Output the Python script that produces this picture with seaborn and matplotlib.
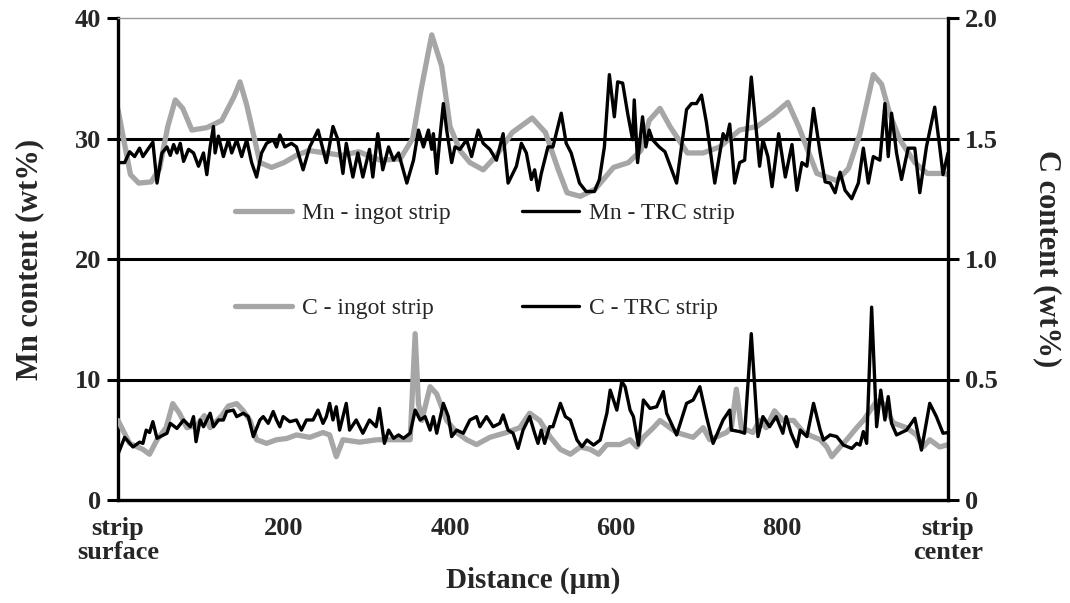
import matplotlib
matplotlib.use("Agg")
import matplotlib.pyplot as plt
import seaborn as sns
import pandas as pd

# ---------------- data (distance in um, content in wt%) ----------------
mn_ingot_pts = [(0, 32.4), (8, 29.5), (15, 27.0), (25, 26.3), (40, 26.4), (50, 27.5), (60, 31.0),
                (69, 33.2), (78, 32.5), (89, 30.7), (107, 30.9), (125, 31.5), (140, 33.5), (147, 34.7),
                (155, 32.8), (171, 28.0), (185, 27.6), (200, 28.0), (215, 28.6), (230, 29.0), (250, 28.8),
                (270, 28.6), (290, 28.9), (316, 28.2), (340, 28.3), (355, 30.0), (365, 34.0), (378, 38.6),
                (390, 36.0), (400, 31.0), (412, 29.0), (424, 28.0), (440, 27.4), (455, 28.5), (475, 30.5),
                (499, 31.7), (515, 30.5), (530, 27.5), (541, 25.5), (557, 25.2), (575, 25.8), (597, 27.6),
                (615, 28.0), (630, 29.0), (640, 31.5), (653, 32.5), (665, 31.0), (686, 28.8), (705, 28.8),
                (725, 29.3), (749, 30.7), (770, 31.0), (790, 32.0), (807, 33.0), (820, 31.0), (842, 27.1),
                (866, 26.5), (880, 27.5), (894, 30.4), (910, 35.3), (920, 34.5), (930, 32.0), (942, 29.9),
                (960, 28.0), (975, 27.1), (994, 27.1), (1000, 27.0)]

mn_trc_pts = [(0, 28.0), (8, 28.0), (14, 28.9), (20, 28.5), (26, 29.2), (30, 28.5), (42, 29.7), (47, 26.3),
              (53, 28.8), (59, 29.3), (63, 28.6), (67, 29.5), (71, 28.8), (75, 29.6), (79, 28.1), (85, 29.1),
              (91, 28.8), (97, 27.7), (103, 28.8), (107, 27.0), (111, 29.3), (115, 31.0), (117, 28.8),
              (121, 30.2), (127, 28.5), (133, 29.9), (137, 28.8), (143, 29.9), (149, 28.5), (155, 29.9),
              (161, 28.0), (167, 26.8), (173, 28.8), (179, 29.6), (187, 29.9), (191, 29.3), (195, 30.3),
              (201, 29.3), (209, 29.6), (215, 29.3), (223, 27.4), (231, 29.3), (241, 30.7), (251, 28.0),
              (259, 31.0), (265, 29.9), (271, 27.1), (275, 29.6), (283, 26.8), (289, 28.8), (295, 26.8),
              (303, 29.1), (307, 26.8), (313, 30.4), (319, 27.4), (326, 29.3), (332, 28.2), (338, 28.8),
              (348, 26.3), (356, 28.2), (362, 30.7), (368, 29.3), (374, 30.7), (378, 29.1), (380, 30.4),
              (384, 27.1), (388, 30.2), (392, 32.9), (396, 30.7), (402, 28.0), (406, 29.3), (412, 29.1),
              (420, 29.9), (426, 28.5), (434, 30.7), (440, 29.6), (448, 29.1), (456, 28.2), (464, 30.4),
              (470, 26.3), (480, 27.7), (486, 29.6), (492, 28.8), (498, 26.6), (502, 27.4), (506, 25.7),
              (510, 27.1), (514, 28.2), (518, 29.3), (524, 29.3), (534, 32.1), (540, 29.6), (546, 28.8),
              (556, 26.3), (564, 25.6), (574, 25.6), (580, 26.6), (586, 29.3), (592, 35.3), (598, 31.8),
              (602, 34.7), (608, 34.6), (614, 32.1), (620, 29.9), (622, 33.2), (626, 28.0), (632, 31.8),
              (636, 29.3), (640, 30.7), (644, 29.9), (652, 29.3), (659, 28.9), (673, 26.3), (685, 32.4),
              (691, 32.9), (697, 32.9), (703, 33.6), (709, 31.3), (719, 26.3), (729, 30.4), (733, 29.9),
              (737, 31.2), (743, 26.3), (749, 28.0), (755, 28.2), (763, 35.1), (773, 27.7), (777, 29.9),
              (783, 28.5), (788, 26.0), (796, 30.4), (804, 26.8), (812, 29.5), (818, 25.7), (824, 28.0),
              (830, 27.7), (838, 32.5), (846, 28.8), (852, 26.4), (858, 26.3), (864, 25.5), (870, 27.2),
              (876, 25.7), (884, 25.0), (892, 26.3), (898, 29.2), (904, 26.3), (910, 28.5), (918, 28.2),
              (924, 32.9), (928, 28.5), (932, 32.1), (938, 28.8), (944, 26.6), (952, 29.2), (960, 29.2),
              (966, 25.5), (974, 29.3), (984, 32.6), (990, 29.3), (994, 27.0), (1000, 28.8)]

c_ingot_pts = [(0, 0.33), (14, 0.235), (30, 0.21), (38, 0.19), (47, 0.25), (58, 0.30), (66, 0.40), (74, 0.36),
               (83, 0.30), (95, 0.31), (104, 0.35), (111, 0.30), (125, 0.35), (133, 0.39), (143, 0.40),
               (151, 0.37), (159, 0.33), (167, 0.25), (179, 0.235), (191, 0.25), (203, 0.255), (215, 0.27),
               (231, 0.26), (247, 0.28), (255, 0.27), (263, 0.18), (271, 0.25), (291, 0.24), (312, 0.25),
               (352, 0.25), (358, 0.69), (362, 0.40), (366, 0.33), (376, 0.47), (384, 0.44), (396, 0.33),
               (408, 0.28), (420, 0.25), (432, 0.23), (448, 0.26), (468, 0.28), (484, 0.30), (496, 0.36),
               (508, 0.33), (521, 0.26), (533, 0.21), (545, 0.19), (557, 0.22), (569, 0.21), (579, 0.19),
               (589, 0.23), (605, 0.23), (617, 0.25), (625, 0.22), (633, 0.26), (645, 0.30), (653, 0.33),
               (673, 0.28), (693, 0.26), (705, 0.30), (713, 0.25), (733, 0.28), (739, 0.30), (745, 0.46),
               (751, 0.30), (765, 0.28), (773, 0.33), (781, 0.30), (791, 0.37), (801, 0.33), (814, 0.33),
               (826, 0.28), (846, 0.25), (854, 0.22), (860, 0.18), (870, 0.22), (878, 0.25), (890, 0.30),
               (898, 0.33), (914, 0.41), (922, 0.40), (934, 0.32), (950, 0.30), (962, 0.27), (970, 0.22),
               (978, 0.25), (990, 0.22), (1000, 0.23)]

c_trc_pts = [(0, 0.19), (8, 0.26), (18, 0.22), (26, 0.24), (30, 0.235), (34, 0.29), (38, 0.28), (42, 0.325),
             (47, 0.256), (59, 0.277), (63, 0.318), (71, 0.297), (79, 0.332), (87, 0.304), (91, 0.346),
             (94, 0.242), (99, 0.332), (103, 0.304), (111, 0.36), (115, 0.304), (121, 0.332), (127, 0.332),
             (131, 0.367), (139, 0.373), (143, 0.346), (151, 0.36), (157, 0.346), (163, 0.263), (171, 0.332),
             (175, 0.346), (181, 0.318), (187, 0.367), (191, 0.332), (195, 0.304), (199, 0.346), (207, 0.325),
             (215, 0.332), (221, 0.29), (227, 0.332), (235, 0.332), (241, 0.373), (247, 0.318), (251, 0.346),
             (255, 0.401), (259, 0.332), (263, 0.387), (267, 0.29), (275, 0.401), (279, 0.29), (287, 0.332),
             (295, 0.277), (303, 0.332), (311, 0.304), (315, 0.38), (321, 0.235), (326, 0.29), (332, 0.256),
             (338, 0.27), (344, 0.256), (352, 0.277), (358, 0.373), (364, 0.332), (370, 0.346), (376, 0.29),
             (380, 0.346), (384, 0.277), (392, 0.401), (398, 0.346), (402, 0.263), (408, 0.29), (416, 0.277),
             (424, 0.332), (432, 0.346), (436, 0.304), (444, 0.346), (452, 0.304), (460, 0.318), (464, 0.353),
             (470, 0.29), (476, 0.277), (482, 0.214), (488, 0.29), (496, 0.346), (502, 0.277), (506, 0.235),
             (510, 0.29), (514, 0.235), (520, 0.304), (524, 0.304), (533, 0.401), (539, 0.346), (545, 0.332),
             (553, 0.249), (559, 0.221), (565, 0.249), (573, 0.228), (581, 0.249), (589, 0.36), (593, 0.456),
             (597, 0.415), (601, 0.373), (607, 0.491), (611, 0.47), (617, 0.373), (621, 0.346), (627, 0.228),
             (633, 0.415), (641, 0.38), (649, 0.387), (657, 0.45), (661, 0.36), (673, 0.27), (685, 0.401),
             (693, 0.415), (701, 0.47), (709, 0.346), (717, 0.235), (729, 0.332), (737, 0.373), (739, 0.29),
             (749, 0.284), (755, 0.277), (763, 0.69), (771, 0.263), (777, 0.346), (785, 0.304), (793, 0.346),
             (801, 0.277), (805, 0.346), (811, 0.277), (818, 0.221), (822, 0.29), (830, 0.263), (838, 0.401),
             (846, 0.29), (850, 0.249), (858, 0.27), (866, 0.263), (874, 0.228), (884, 0.214), (890, 0.235),
             (894, 0.228), (898, 0.284), (902, 0.235), (908, 0.80), (914, 0.304), (919, 0.456), (924, 0.332),
             (928, 0.429), (932, 0.318), (938, 0.27), (950, 0.29), (960, 0.339), (968, 0.207), (978, 0.401),
             (986, 0.346), (994, 0.277), (1000, 0.28)]

series_labels = ["Mn - ingot strip", "Mn - TRC strip", "C - ingot strip", "C - TRC strip"]
x_ticks = [0, 200, 400, 600, 800, 1000]
x_tick_labels = ["strip\nsurface", "200", "400", "600", "800", "strip\ncenter"]
mn_ticks = [0, 10, 20, 30, 40]
c_ticks = [0, 0.5, 1.0, 1.5, 2.0]
c_tick_labels = ["0", "0.5", "1.0", "1.5", "2.0"]

# ---------------- style ----------------
sns.set_style("white")
plt.rcParams["font.family"] = ["Liberation Serif", "DejaVu Serif"]
plt.rcParams["font.weight"] = "bold"
plt.rcParams["axes.labelweight"] = "bold"

GRAY = "#a6a6a6"
BLACK = "#000000"
W, H = 1070, 603

fig = plt.figure(figsize=(W / 100, H / 100), dpi=100)
ax = fig.add_axes([118 / W, 1 - 500 / H, (948 - 118) / W, (500 - 18) / H])
ax2 = ax.twinx()


def frame(pts):
    return pd.DataFrame(pts, columns=["dist", "val"])


sns.lineplot(data=frame(mn_ingot_pts), x="dist", y="val", ax=ax, color=GRAY, linewidth=3.8,
             solid_joinstyle="round", solid_capstyle="round", sort=False)
sns.lineplot(data=frame(mn_trc_pts), x="dist", y="val", ax=ax, color=BLACK, linewidth=2.4, sort=False)
sns.lineplot(data=frame(c_ingot_pts), x="dist", y="val", ax=ax2, color=GRAY, linewidth=3.8,
             solid_joinstyle="round", solid_capstyle="round", sort=False)
sns.lineplot(data=frame(c_trc_pts), x="dist", y="val", ax=ax2, color=BLACK, linewidth=2.4, sort=False)

ax.set_xlim(0, 1000)
ax.set_ylim(0, 40)
ax2.set_ylim(0, 2.0)

ax.set_xticks(x_ticks)
ax.set_xticklabels(x_tick_labels)
for lbl in ax.get_xticklabels():
    lbl.set_linespacing(1.05)
ax.set_yticks(mn_ticks)
ax2.set_yticks(c_ticks)
ax2.set_yticklabels(c_tick_labels)

ax.tick_params(axis="both", direction="out", length=8, width=2.2, labelsize=19, pad=4, color=BLACK)
ax2.tick_params(axis="y", direction="out", length=8, width=2.2, labelsize=19, pad=4, color=BLACK)

# horizontal gridlines at inner ticks
ax.yaxis.grid(True, color=BLACK, linewidth=2.2)
ax.xaxis.grid(False)
gl = ax.get_ygridlines()
gl[0].set_visible(False)
gl[-1].set_visible(False)
ax.set_axisbelow(True)

for s in ["left", "bottom"]:
    ax.spines[s].set_color(BLACK)
    ax.spines[s].set_linewidth(2.4)
ax.spines["top"].set_color("#9a9a9a")
ax.spines["top"].set_linewidth(1.0)
ax.spines["right"].set_visible(False)
for s in ["left", "bottom", "top"]:
    ax2.spines[s].set_visible(False)
ax2.spines["right"].set_visible(True)
ax2.spines["right"].set_color(BLACK)
ax2.spines["right"].set_linewidth(2.4)

ax.set_xlabel("Distance (µm)", fontsize=21, fontweight="bold", labelpad=2)
ax.set_ylabel("Mn content (wt%)", fontsize=22, fontweight="bold", labelpad=22)
ax2.set_ylabel("C content (wt%)", fontsize=22, fontweight="bold", rotation=270, labelpad=46)

# legends (one entry each, placed like the original)
handles = [ax.lines[0], ax.lines[1], ax2.lines[0], ax2.lines[1]]
anchors = [(235, 213), (522, 213), (235, 308), (522, 308)]
for h, lab, (px, py) in zip(handles, series_labels, anchors):
    leg = fig.legend([h], [lab], loc="center left", bbox_to_anchor=(px / W, 1 - py / H),
                     bbox_transform=fig.transFigure, frameon=False, borderpad=0, borderaxespad=0,
                     handlelength=2.4, handletextpad=0.42,
                     prop={"family": "Liberation Serif", "weight": "normal", "size": 17})

fig.savefig("out.png", dpi=100)
